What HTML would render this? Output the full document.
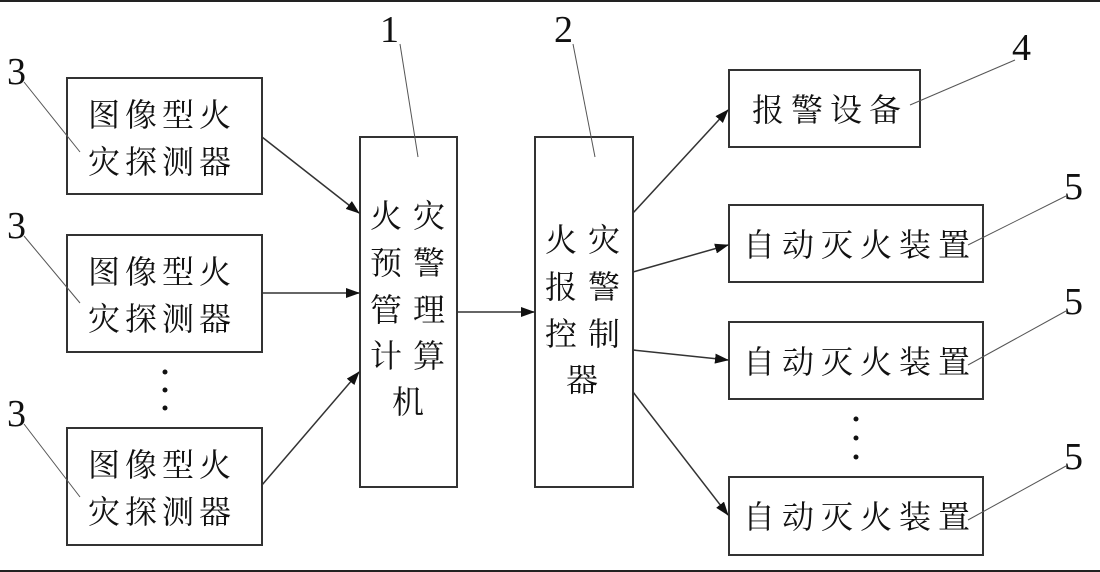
<!DOCTYPE html>
<html><head><meta charset="utf-8"><style>
html,body{margin:0;padding:0;background:#fff;}
svg{display:block;}
text{font-family:"Liberation Serif","Noto Serif CJK SC",serif;fill:#111;}
.c{font-size:32px;font-family:"Noto Serif CJK SC","Noto Sans CJK SC",serif;}
.n{font-size:38px;}
</style></head><body>
<svg width="1100" height="572" viewBox="0 0 1100 572" xmlns="http://www.w3.org/2000/svg">
<defs><marker id="a" markerWidth="14" markerHeight="10" refX="13" refY="5" orient="auto" markerUnits="userSpaceOnUse"><path d="M0,0 L14,5 L0,10 z" fill="#111"/></marker></defs>
<rect x="0" y="0" width="1100" height="2" fill="#222"/>
<rect x="0" y="570" width="1100" height="2" fill="#222"/>
<g fill="none" stroke="#333" stroke-width="2">
<rect x="67" y="78" width="195" height="116"/>
<rect x="67" y="235" width="195" height="117"/>
<rect x="67" y="428" width="195" height="117"/>
<rect x="360" y="137" width="97" height="350"/>
<rect x="535" y="137" width="98" height="350"/>
<rect x="729" y="70" width="191" height="77"/>
<rect x="729" y="205" width="254" height="77"/>
<rect x="729" y="322" width="254" height="77"/>
<rect x="729" y="477" width="254" height="78"/>
</g>
<g stroke="#333" stroke-width="1.5" fill="none" marker-end="url(#a)">
<line x1="262" y1="137" x2="359" y2="213"/>
<line x1="262" y1="293" x2="359" y2="293"/>
<line x1="262" y1="485" x2="359" y2="372"/>
<line x1="457" y1="312" x2="534" y2="312"/>
<line x1="633" y1="213" x2="728" y2="110"/>
<line x1="633" y1="272" x2="728" y2="245"/>
<line x1="633" y1="350" x2="728" y2="360"/>
<line x1="633" y1="392" x2="728" y2="515"/>
</g>
<g stroke="#555" stroke-width="1" fill="none">
<line x1="24" y1="82" x2="80" y2="152"/>
<line x1="24" y1="236" x2="80" y2="303"/>
<line x1="24" y1="424" x2="80" y2="497"/>
<line x1="400" y1="44" x2="418" y2="157"/>
<line x1="573" y1="44" x2="595" y2="157"/>
<line x1="1015" y1="60" x2="910" y2="105"/>
<line x1="1066" y1="196" x2="968" y2="245"/>
<line x1="1066" y1="311" x2="968" y2="365"/>
<line x1="1066" y1="466" x2="968" y2="520"/>
</g>
<g class="n">
<text x="7" y="84">3</text><text x="7" y="238">3</text><text x="7" y="426">3</text>
<text x="380" y="42">1</text><text x="554" y="42">2</text>
<text x="1012" y="60">4</text>
<text x="1064" y="199">5</text><text x="1064" y="314">5</text><text x="1064" y="469">5</text>
</g>
<g class="c">
<text x="88" y="126" letter-spacing="5">图像型火</text><text x="88" y="173" letter-spacing="5">灾探测器</text>
<text x="88" y="283" letter-spacing="5">图像型火</text><text x="88" y="330" letter-spacing="5">灾探测器</text>
<text x="88" y="476" letter-spacing="5">图像型火</text><text x="88" y="523" letter-spacing="5">灾探测器</text>
<text x="370" y="227" letter-spacing="11">火灾</text>
<text x="370" y="274" letter-spacing="11">预警</text>
<text x="370" y="321" letter-spacing="11">管理</text>
<text x="370" y="367" letter-spacing="11">计算</text>
<text x="392" y="413">机</text>
<text x="545" y="251" letter-spacing="11">火灾</text>
<text x="545" y="298" letter-spacing="11">报警</text>
<text x="545" y="345" letter-spacing="11">控制</text>
<text x="566" y="391">器</text>
<text x="752" y="121" letter-spacing="7">报警设备</text>
<text x="743" y="256" letter-spacing="7">自动灭火装置</text>
<text x="743" y="373" letter-spacing="7">自动灭火装置</text>
<text x="743" y="528" letter-spacing="7">自动灭火装置</text>
</g>
<g fill="#111">
<circle cx="165" cy="372" r="2.5"/><circle cx="165" cy="390" r="2.5"/><circle cx="165" cy="408" r="2.5"/>
<circle cx="856" cy="419" r="2.5"/><circle cx="856" cy="438" r="2.5"/><circle cx="856" cy="457" r="2.5"/>
</g>
</svg>
</body></html>
